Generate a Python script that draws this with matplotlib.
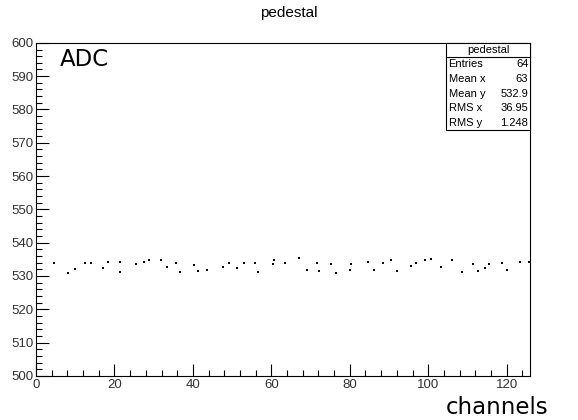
import numpy as np
import matplotlib.pyplot as plt
from matplotlib.ticker import MultipleLocator

# Datos (canal, pedestal ADC)
channels = [4.5, 8.1, 10.0, 12.6, 13.9, 17.0, 18.4, 21.3, 21.5, 25.4, 27.6, 28.8,
            31.8, 33.5, 35.6, 36.8, 40.4, 41.4, 43.7, 47.7, 49.2, 51.3, 53.0, 55.8,
            56.7, 60.4, 60.8, 63.4, 67.1, 69.0, 71.7, 72.2, 75.3, 76.4, 80.0, 80.2,
            84.6, 86.2, 88.5, 90.5, 92.1, 95.7, 96.8, 99.1, 100.7, 103.3, 106.0,
            108.5, 111.3, 112.6, 114.6, 115.6, 118.8, 120.1, 123.4, 125.6]
adc = [533.8, 530.8, 532.0, 533.8, 533.8, 532.3, 534.3, 534.3, 531.3, 533.5, 534.3,
       534.7, 534.7, 532.8, 533.8, 531.3, 533.3, 531.5, 531.9, 532.8, 533.8, 532.3,
       533.8, 533.8, 531.3, 533.5, 534.7, 533.8, 535.3, 531.9, 533.8, 531.5, 533.5,
       530.8, 531.9, 533.5, 534.3, 531.9, 533.8, 534.7, 531.5, 533.1, 533.8, 534.7,
       535.2, 532.8, 534.7, 531.2, 533.5, 531.5, 532.3, 533.5, 533.8, 531.9, 534.3,
       534.3]

stats_labels = ['Entries', 'Mean x', 'Mean y', 'RMS x', 'RMS y']
stats_values = ['64', '63', '532.9', '36.95', '1.248']

plt.rcParams['font.family'] = ['Liberation Sans', 'DejaVu Sans']

fig = plt.figure(figsize=(5.78, 4.2), dpi=100)
ax = fig.add_axes([0.0623, 0.105, 0.855, 0.793])

ax.plot(channels, adc, 's', color='black', markersize=1.9, markeredgewidth=0)

ax.set_xlim(0, 126)
ax.set_ylim(500, 600)
ax.xaxis.set_major_locator(MultipleLocator(20))
ax.xaxis.set_minor_locator(MultipleLocator(4))
ax.yaxis.set_major_locator(MultipleLocator(10))
ax.yaxis.set_minor_locator(MultipleLocator(2))
ax.tick_params(which='both', direction='in', top=False, right=False,
               labelsize=9.5, labelcolor='#333333', width=0.8)
ax.tick_params(which='major', length=9)
ax.tick_params(which='minor', length=4.5)
ax.tick_params(axis='x', pad=2)
ax.tick_params(axis='y', pad=2)
for s in ax.spines.values():
    s.set_linewidth(0.8)

fig.text(0.5, 0.968, 'pedestal', ha='center', va='center', fontsize=11)
ax.text(0.048, 0.985, 'ADC', transform=ax.transAxes, ha='left', va='top',
        fontsize=16.5, family='DejaVu Sans')
fig.text(0.86, 0.03, 'channels', ha='center', va='center', fontsize=16.5,
         family='DejaVu Sans')

# caja de estadisticas
bx0, bx1, by0, by1 = 0.772, 0.917, 0.69, 0.898
fig.patches.append(plt.Rectangle((bx0, by0), bx1 - bx0, by1 - by0, transform=fig.transFigure,
                                 facecolor='white', edgecolor='black', linewidth=0.8, zorder=5))
hy = by1 - 0.034
fig.add_artist(plt.Line2D([bx0, bx1], [hy, hy], transform=fig.transFigure,
                          color='black', linewidth=0.8, zorder=6))
fig.text((bx0 + bx1) / 2, (by1 + hy) / 2, 'pedestal', ha='center', va='center',
         fontsize=8, zorder=7)
row_h = (hy - by0) / len(stats_labels)
for i, (lab, val) in enumerate(zip(stats_labels, stats_values)):
    yy = hy - row_h * (i + 0.5)
    fig.text(bx0 + 0.004, yy, lab, ha='left', va='center', fontsize=8, zorder=7)
    fig.text(bx1 - 0.003, yy, val, ha='right', va='center', fontsize=8, zorder=7)

fig.savefig('out.png', dpi=100)
